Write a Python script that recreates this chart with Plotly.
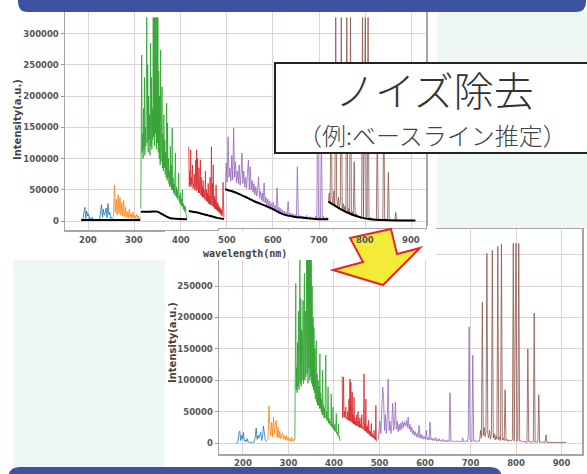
import numpy as np
import plotly.graph_objects as go

W, H = 587, 474

# ---------------- data (intensity in thousands of a.u.) ----------------
x_ticks = [200, 300, 400, 500, 600, 700, 800, 900]
y_ticks = [0, 50000, 100000, 150000, 200000, 250000, 300000]

# sampling grids: (start wavelength nm, step nm)
grid_blue = (185, 2)
grid_orange = (255, 2)
grid_green = (314, 1)
grid_red = (418, 1)
grid_purple = (497, 2)
grid_brown = (720, 2)

# --- raw spectra (upper chart) ---
raw_blue = [1, 2, 3, 14, 22, 4, 16, 8, 11, 3, 5, 2, 6, 2, 1, 2, 1, 1, 2, 1,
            3, 14, 26, 6, 19, 9, 13, 21, 5, 28, 10, 14, 4, 6, 3]
raw_orange = [6, 58, 14, 35, 10, 42, 12, 38, 9, 30, 8, 33, 7, 22, 6, 15, 5, 19, 6, 12,
              4, 14, 5, 9, 4, 11, 3, 8, 3, 6]
raw_green = [20, 120, 266, 110, 140, 100, 180, 115, 230, 105, 150, 120, 210, 326, 125, 250, 110, 200, 130, 170,
             105, 285, 120, 230, 115, 180, 130, 326, 135, 326, 120, 326, 140, 326, 115, 326, 125, 326, 110, 240,
             100, 200, 90, 274, 95, 160, 215, 85, 140, 80, 170, 85, 130, 75, 110, 70, 189, 65, 157, 70,
             100, 60, 80, 55, 120, 55, 90, 50, 149, 50, 70, 45, 60, 42, 80, 109, 40, 55, 38, 50,
             35, 45, 77, 32, 40, 28, 45, 26, 35, 24, 50, 22, 28, 18, 25, 15, 20, 23, 10, 10, 4]
raw_red = [119, 55, 80, 58, 114, 55, 70, 60, 90, 52, 60, 55, 75, 50, 55, 98, 48, 114, 50, 100,
           70, 45, 85, 45, 60, 98, 42, 70, 40, 55, 38, 65, 38, 50, 35, 45, 80, 33, 50, 32,
           45, 30, 60, 28, 40, 27, 70, 26, 45, 119, 25, 60, 24, 90, 22, 40, 20, 35, 19, 58,
           18, 30, 16, 28, 15, 25, 13, 22, 12, 20, 10, 18, 8, 15, 62, 12, 4]
raw_purple = [51, 93, 62, 135, 70, 85, 64, 105, 66, 149, 70, 95, 62, 80, 60, 90, 57, 75, 109, 60,
              80, 54, 70, 52, 75, 98, 50, 87, 50, 65, 46, 60, 42, 55, 40, 50, 71, 37, 48, 33,
              45, 31, 61, 29, 38, 26, 35, 24, 32, 23, 28, 21, 30, 19, 25, 17, 53, 15, 22, 13,
              20, 12, 18, 10, 16, 9, 14, 9, 31, 8, 13, 7, 12, 7, 11, 6, 10, 6, 87, 6,
              9, 5, 8, 5, 8, 4, 7, 4, 9, 4, 6, 4, 7, 3, 6, 3, 5, 3, 8, 3,
              190, 4, 6, 3, 145, 4, 8, 3, 5, 3, 6, 3]
raw_brown = [31, 45, 30, 252, 38, 27, 48, 25, 326, 40, 22, 38, 20, 30, 326, 18, 28, 16, 24, 14,
             326, 12, 20, 11, 326, 9, 15, 8, 95, 7, 12, 6, 10, 5, 8, 4, 9, 326, 4, 175,
             326, 4, 7, 326, 3, 6, 3, 5, 2, 4, 2, 3, 2, 152, 2, 4, 2, 3, 1, 3,
             209, 2, 3, 1, 3, 78, 1, 3, 1, 2, 1, 2, 1, 14, 1, 2, 1, 2, 1, 1,
             1, 2, 1, 1, 1, 1, 1, 1, 1, 1, 1, 1, 1, 1, 1, 1]

# --- estimated baselines (black lines, upper chart) ---
base_uv_x = [185, 250, 313]
base_uv_y = [1.5, 1.5, 1.5]
base_green_x = [314, 335, 350, 360, 370, 378, 390, 414]
base_green_y = [15, 15, 15, 11, 7, 4.5, 3.5, 3]
base_red_x = [418, 440, 460, 480, 494]
base_red_y = [16, 13, 9, 5, 3]
base_purple_x = [497, 510, 525, 545, 565, 585, 600, 615, 630, 645, 660, 680, 700, 720]
base_purple_y = [51, 48, 44, 37, 30, 24, 19, 13, 9, 7, 5.5, 4, 3, 3]
base_brown_x = [720, 740, 760, 784, 810, 840, 870, 908]
base_brown_y = [31, 22, 14, 7, 3, 1.5, 1, 0.8]

# --- baseline-corrected spectra (lower chart) ---
cor_blue = [0, 1, 2, 15, 19, 4, 12, 6, 17, 3, 5, 2, 7, 2, 1, 1, 1, 0, 1, 1,
            2, 10, 24, 6, 12, 8, 15, 17, 4, 10, 27, 9, 5, 3, 2]
cor_orange = [5, 59, 25, 12, 33, 10, 41, 15, 30, 36, 9, 25, 8, 19, 7, 14, 16, 6, 11, 5,
              12, 4, 9, 4, 7, 3, 10, 3, 6, 2]
cor_green = [5, 100, 254, 85, 120, 80, 160, 90, 210, 85, 130, 310, 95, 230, 90, 180, 100, 150, 227, 95,
             170, 270, 100, 210, 105, 160, 310, 110, 310, 95, 310, 120, 310, 100, 310, 105, 310, 95, 250, 90,
             200, 85, 184, 80, 150, 70, 120, 163, 65, 110, 60, 100, 60, 90, 55, 142, 55, 80, 50, 70,
             45, 116, 45, 60, 40, 55, 40, 70, 140, 38, 50, 35, 45, 89, 32, 40, 30, 35, 28, 30,
             78, 26, 30, 24, 57, 22, 25, 20, 30, 18, 20, 47, 15, 18, 12, 15, 30, 8, 10, 4, 4]
cor_red = [106, 40, 60, 105, 42, 50, 40, 45, 57, 38, 40, 38, 50, 36, 38, 70, 35, 102, 35, 97,
           40, 33, 81, 32, 45, 30, 73, 30, 40, 28, 35, 28, 45, 27, 30, 50, 26, 35, 25, 40,
           25, 30, 24, 45, 23, 25, 22, 40, 110, 20, 30, 19, 70, 18, 25, 16, 28, 15, 36, 14,
           20, 12, 18, 11, 31, 10, 15, 9, 12, 8, 20, 7, 10, 5, 60, 3, 3]
cor_purple = [5, 20, 35, 15, 60, 89, 71, 20, 45, 15, 40, 102, 20, 35, 15, 30, 63, 20, 30, 65,
              22, 35, 18, 30, 20, 32, 22, 35, 25, 33, 28, 36, 25, 41, 22, 30, 18, 25, 14, 20,
              12, 18, 10, 15, 9, 28, 8, 14, 7, 12, 6, 10, 6, 20, 5, 9, 5, 33, 5, 8,
              4, 7, 4, 9, 3, 6, 3, 7, 3, 5, 3, 6, 2, 4, 2, 5, 2, 4, 2, 80,
              3, 4, 2, 3, 2, 3, 2, 4, 2, 3, 2, 3, 2, 8, 2, 3, 2, 4, 2, 10,
              185, 5, 3, 2, 140, 3, 5, 2, 3, 2, 4, 2]
cor_brown = [3, 20, 8, 224, 12, 25, 10, 18, 302, 15, 8, 20, 6, 15, 307, 8, 15, 5, 12, 6,
             313, 5, 10, 4, 317, 5, 8, 4, 85, 4, 6, 3, 5, 3, 4, 3, 6, 318, 3, 170,
             318, 3, 5, 318, 3, 4, 2, 3, 2, 3, 1, 2, 1, 150, 2, 3, 1, 2, 1, 2,
             207, 1, 3, 1, 2, 77, 1, 2, 1, 2, 1, 1, 1, 13, 1, 1, 1, 1, 1, 1,
             1, 1, 1, 1, 1, 1, 1, 1, 1, 1, 1, 1, 1, 1, 1, 1]

UNIT = 1000.0
COLORS = {'blue': '#1f77b4', 'orange': '#ff7f0e', 'green': '#2ca02c',
          'red': '#d62728', 'purple': '#9467bd', 'brown': '#8c564b'}


def wl(grid, vals):
    start, step = grid
    return start + step * np.arange(len(vals))


def X(px):
    return px / W


def Y(py):
    return 1 - py / H


fig = go.Figure()

segments_raw = [('blue', grid_blue, raw_blue), ('orange', grid_orange, raw_orange),
                ('green', grid_green, raw_green), ('red', grid_red, raw_red),
                ('purple', grid_purple, raw_purple), ('brown', grid_brown, raw_brown)]
segments_cor = [('blue', grid_blue, cor_blue), ('orange', grid_orange, cor_orange),
                ('green', grid_green, cor_green), ('red', grid_red, cor_red),
                ('purple', grid_purple, cor_purple), ('brown', grid_brown, cor_brown)]

for name, grid, vals in segments_cor:
    fig.add_trace(go.Scatter(x=wl(grid, vals), y=np.array(vals) * UNIT, mode='lines',
                             line=dict(color=COLORS[name], width=1), opacity=0.8,
                             xaxis='x2', yaxis='y2', hoverinfo='skip'))

for name, grid, vals in segments_raw:
    fig.add_trace(go.Scatter(x=wl(grid, vals), y=np.array(vals) * UNIT, mode='lines',
                             line=dict(color=COLORS[name], width=1), opacity=0.8,
                             xaxis='x', yaxis='y', hoverinfo='skip'))

for bx, by in [(base_uv_x, base_uv_y), (base_green_x, base_green_y), (base_red_x, base_red_y),
               (base_purple_x, base_purple_y), (base_brown_x, base_brown_y)]:
    fig.add_trace(go.Scatter(x=bx, y=np.array(by) * UNIT, mode='lines',
                             line=dict(color='black', width=2, shape='spline', smoothing=0.5),
                             xaxis='x', yaxis='y', hoverinfo='skip'))

grid_col = '#ddd5d5'
spine_col = '#aaa3a3'
tick_font = dict(family='DejaVu Sans', size=8.5, color='#555', weight='bold')

axis_common = dict(showgrid=True, gridcolor=grid_col, gridwidth=1, zeroline=False,
                   showline=True, linecolor=spine_col, linewidth=1.5, mirror=True,
                   tickfont=tick_font)

# in the lower chart the top tick label is hidden behind the upper figure
lower_ytext = [str(v) if v < 300000 else '' for v in y_ticks]

fig.update_layout(
    width=W, height=H, autosize=False,
    margin=dict(l=0, r=0, t=0, b=0),
    paper_bgcolor='white', plot_bgcolor='white',
    showlegend=False, hovermode=False,
    xaxis=dict(domain=[X(65), X(426)], range=[150, 931.4], tickvals=x_ticks,
               showticklabels=False, ticks='', anchor='y', **axis_common),
    yaxis=dict(domain=[Y(230), Y(8)], range=[-14400, 341300], tickvals=y_ticks,
               ticktext=[str(v) for v in y_ticks], ticks='outside', ticklen=3,
               tickcolor='#999', anchor='x', **axis_common),
    xaxis2=dict(domain=[X(219), X(582)], range=[147.3, 945], tickvals=x_ticks,
                ticktext=[str(v) for v in x_ticks], ticks='', anchor='y2', **axis_common),
    yaxis2=dict(domain=[Y(454), Y(229)], range=[-17500, 340800], tickvals=y_ticks,
                ticktext=lower_ytext, ticks='outside', ticklen=3,
                tickcolor='#999', anchor='x2', **axis_common),
)


def rect_path(x0, y0, x1, y1):
    return dict(type='rect', xref='paper', yref='paper', x0=X(x0), x1=X(x1), y0=Y(y1), y1=Y(y0))


def poly(points):
    d = 'M ' + ' L '.join(f'{X(px):.5f},{Y(py):.5f}' for px, py in points) + ' Z'
    return d


shapes = []
teal = '#eef7f5'
shapes.append(dict(rect_path(437, 12, 587, 229), fillcolor=teal, line=dict(width=0), layer='below'))
shapes.append(dict(rect_path(13, 260, 165, 468), fillcolor=teal, line=dict(width=0), layer='below'))
# white area of upper figure overlapping the lower chart
shapes.append(dict(rect_path(165, 231, 436, 260), fillcolor='white', line=dict(width=0), layer='above'))
shapes.append(dict(rect_path(427, 226, 436, 260), fillcolor='white', line=dict(width=0), layer='above'))
# text box
shapes.append(dict(rect_path(275, 63, 595, 153), fillcolor='white', line=dict(color='#222', width=2),
                   layer='above'))
# yellow arrow
arrow_pts = [(350, 238), (391, 229), (397, 254), (420, 248), (383, 285), (333, 270), (363, 262)]
shapes.append(dict(type='path', xref='paper', yref='paper', path=poly(arrow_pts),
                   fillcolor='#f4ea38', line=dict(color='#e8262a', width=2), layer='above'))


def rounded_banner(left, right, top, bottom, r, round_bottom):
    if round_bottom:
        pts = (f'M {X(left):.5f},{Y(top):.5f} L {X(right):.5f},{Y(top):.5f} '
               f'L {X(right):.5f},{Y(bottom - r):.5f} Q {X(right):.5f},{Y(bottom):.5f} {X(right - r):.5f},{Y(bottom):.5f} '
               f'L {X(left + r):.5f},{Y(bottom):.5f} Q {X(left):.5f},{Y(bottom):.5f} {X(left):.5f},{Y(bottom - r):.5f} Z')
    else:
        pts = (f'M {X(left):.5f},{Y(bottom):.5f} L {X(left):.5f},{Y(top + r):.5f} '
               f'Q {X(left):.5f},{Y(top):.5f} {X(left + r):.5f},{Y(top):.5f} '
               f'L {X(right - r):.5f},{Y(top):.5f} Q {X(right):.5f},{Y(top):.5f} {X(right):.5f},{Y(top + r):.5f} '
               f'L {X(right):.5f},{Y(bottom):.5f} Z')
    return pts


banner = '#3e52a2'
shapes.append(dict(type='path', xref='paper', yref='paper',
                   path=rounded_banner(18, 586, -4, 12, 10, True),
                   fillcolor=banner, line=dict(width=0), layer='above'))
shapes.append(dict(type='path', xref='paper', yref='paper',
                   path=rounded_banner(8, 502, 467, 480, 12, False),
                   fillcolor=banner, line=dict(width=0), layer='above'))
fig.update_layout(shapes=shapes)

ann = []
for t in x_ticks:
    ann.append(dict(x=t, xref='x', y=Y(240), yref='paper', text=str(t), showarrow=False,
                    font=tick_font, xanchor='center', yanchor='middle'))
ann.append(dict(x=X(245), y=Y(253), xref='paper', yref='paper', text='wavelength(nm)', showarrow=False,
                font=dict(family='DejaVu Sans Mono', size=10, color='#444', weight='bold'),
                xanchor='center', yanchor='middle'))
ann.append(dict(x=X(17), y=Y(120), xref='paper', yref='paper', text='Intensity(a.u.)', showarrow=False,
                textangle=-90, font=dict(family='DejaVu Sans', size=10, color='#444', weight='bold'),
                xanchor='center', yanchor='middle'))
ann.append(dict(x=X(172), y=Y(343), xref='paper', yref='paper', text='Intensity(a.u.)', showarrow=False,
                textangle=-90, font=dict(family='DejaVu Sans', size=10, color='#444', weight='bold'),
                xanchor='center', yanchor='middle'))
ann.append(dict(x=X(434), y=Y(89), xref='paper', yref='paper', text='ノイズ除去', showarrow=False,
                font=dict(family='Noto Sans CJK JP', size=40, color='#333', weight=300),
                xanchor='center', yanchor='middle'))
ann.append(dict(x=X(432), y=Y(135), xref='paper', yref='paper', text='（例:ベースライン推定）', showarrow=False,
                font=dict(family='Noto Sans CJK JP', size=24, color='#444', weight=300),
                xanchor='center', yanchor='middle'))
fig.update_layout(annotations=ann)

fig.write_html('out.html', config={'displayModeBar': False, 'staticPlot': True},
               post_script="document.body.style.margin='0';document.body.style.overflow='hidden';")
